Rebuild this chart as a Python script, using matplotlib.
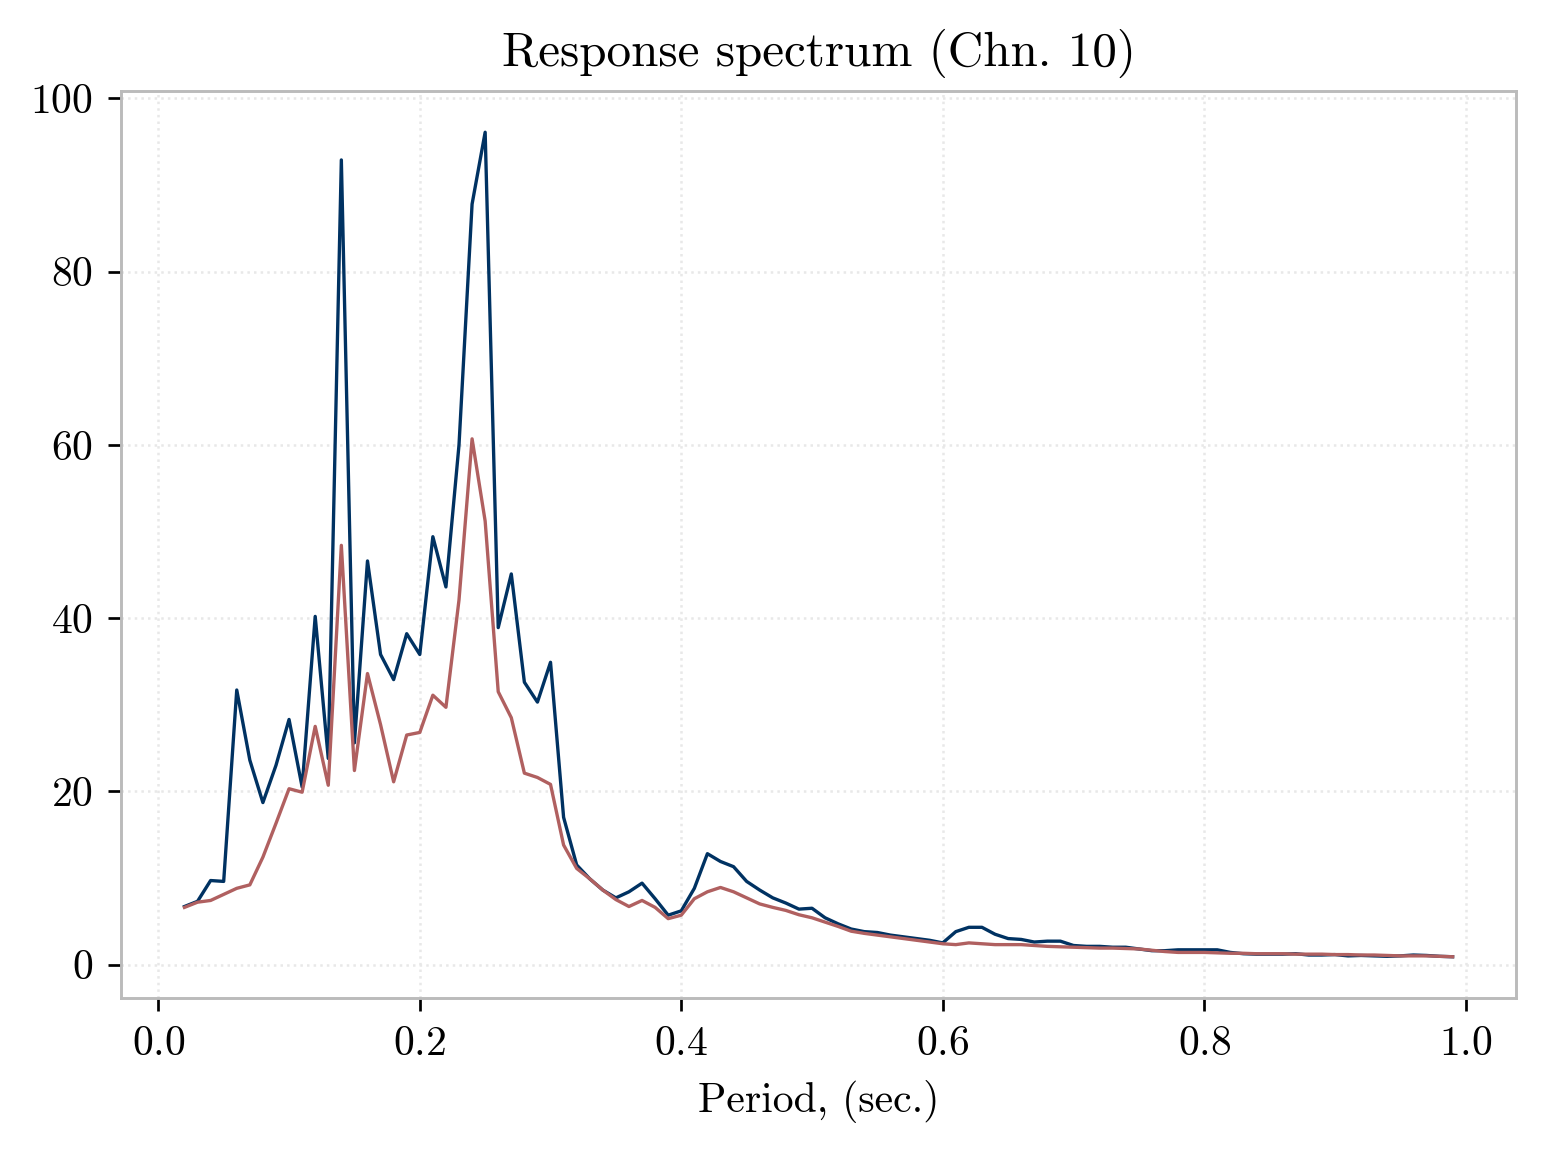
"""
Response spectrum plot, channel 10
"""
import numpy as np
import matplotlib
matplotlib.use('Agg')
import matplotlib.pyplot as plt

plt.rcParams['font.family'] = ['cmr10', 'DejaVu Serif']
plt.rcParams['mathtext.fontset'] = 'cm'
plt.rcParams['axes.formatter.use_mathtext'] = True

period = np.round(np.arange(2, 100) / 100.0, 2)

# Spectral values
sa_blue = [
    6.7, 7.3, 9.7, 9.6, 31.7, 23.6, 18.7, 23.0, 28.3, 20.5,
    40.2, 23.8, 92.9, 25.6, 46.6, 35.8, 32.9, 38.2, 35.8, 49.4,
    43.6, 60.0, 87.8, 96.1, 38.9, 45.1, 32.6, 30.3, 34.9, 17.0,
    11.5, 9.9, 8.6, 7.7, 8.4, 9.4, 7.6, 5.7, 6.2, 8.8,
    12.8, 11.9, 11.3, 9.6, 8.6, 7.7, 7.1, 6.4, 6.5, 5.4,
    4.7, 4.1, 3.8, 3.7, 3.4, 3.2, 3.0, 2.8, 2.5, 3.8,
    4.3, 4.3, 3.5, 3.0, 2.9, 2.6, 2.7, 2.7, 2.2, 2.1,
    2.1, 2.0, 2.0, 1.8, 1.6, 1.6, 1.7, 1.7, 1.7, 1.7,
    1.4, 1.25, 1.2, 1.2, 1.2, 1.25, 1.1, 1.1, 1.15, 1.0,
    1.05, 1.0, 0.95, 1.0, 1.1, 1.05, 0.95, 0.9,
]
sa_red = [
    6.6, 7.2, 7.4, 8.1, 8.8, 9.2, 12.4, 16.3, 20.3, 19.9,
    27.5, 20.7, 48.4, 22.4, 33.6, 27.7, 21.1, 26.5, 26.8, 31.1,
    29.7, 42.1, 60.7, 51.2, 31.5, 28.5, 22.1, 21.6, 20.8, 13.8,
    11.1, 9.9, 8.6, 7.5, 6.7, 7.4, 6.6, 5.3, 5.7, 7.6,
    8.4, 8.9, 8.4, 7.7, 7.0, 6.6, 6.25, 5.75, 5.4, 4.9,
    4.4, 3.85, 3.6, 3.4, 3.2, 3.0, 2.8, 2.6, 2.4, 2.3,
    2.5, 2.4, 2.3, 2.3, 2.3, 2.2, 2.1, 2.05, 2.0, 1.95,
    1.9, 1.9, 1.85, 1.8, 1.65, 1.5, 1.4, 1.4, 1.4, 1.35,
    1.3, 1.3, 1.25, 1.25, 1.25, 1.2, 1.2, 1.2, 1.15, 1.15,
    1.1, 1.1, 1.05, 1.0, 1.0, 1.0, 0.95, 0.9,
]

fig = plt.figure(figsize=(1546 / 300, 1152 / 300), dpi=300)
ax = fig.add_axes([0.0783, 0.1337, 0.9023, 0.7873])

ax.plot(period, sa_blue, color='#003262', linewidth=0.8)
ax.plot(period, sa_red, color='#b06060', linewidth=0.8)

ax.set_title('Response spectrum (Chn. 10)', fontsize=11.8)
ax.set_xlabel('Period, (sec.)', fontsize=10)
ax.tick_params(labelsize=10, color='black', length=3.2, width=0.65)
ax.grid(True, linestyle=':', color='#e8e8e8', linewidth=0.6)
for s in ax.spines.values():
    s.set_color('#bbbbbb')
    s.set_linewidth(0.7)

fig.savefig('out.png', dpi=300)
print('Saved: out.png')
